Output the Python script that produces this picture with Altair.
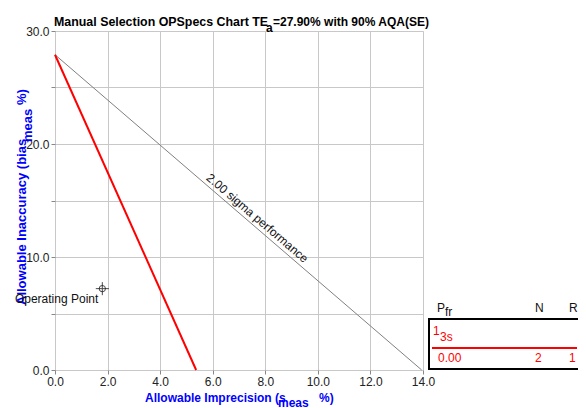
import altair as alt
import pandas as pd

# ---- data ----
tea = 27.90
sigma_x = [0.0, 13.95]
sigma_y = [27.90, 0.0]
rule_x = [0.0, 5.37]
rule_y = [27.90, 0.0]
op_x = [1.8]
op_y = [7.2]
x_ticks = [0, 2, 4, 6, 8, 10, 12, 14]
y_ticks = [0, 5, 10, 15, 20, 25, 30]
legend_rule = "1"
legend_sub = "3s"
legend_pfr = "0.00"
legend_n = "2"
legend_r = "1"

W, H = 368, 339
FONT = "Liberation Sans"

xs = alt.Scale(domain=[0, 14], nice=False, zero=False)
ys = alt.Scale(domain=[0, 30], nice=False, zero=False)

xaxis = alt.Axis(values=x_ticks, format=".1f", title=None, grid=True, gridColor="#c8c8c8",
                 labelFont=FONT, labelFontSize=12, labelColor="#222", tickColor="#888",
                 domain=False, labelPadding=2, tickSize=4, labelFlush=False)
yaxis = alt.Axis(values=y_ticks, title=None, grid=True, gridColor="#c8c8c8",
                 labelExpr="datum.value % 10 == 0 ? format(datum.value, '.1f') : ''",
                 labelFont=FONT, labelFontSize=12, labelColor="#222", tickColor="#888",
                 domain=False, labelPadding=2, tickSize=4, labelFlush=False)

sig_df = pd.DataFrame({"x": sigma_x, "y": sigma_y})
rule_df = pd.DataFrame({"x": rule_x, "y": rule_y})
op_df = pd.DataFrame({"x": op_x, "y": op_y, "label": ["Operating Point"]})

base_sig = alt.Chart(sig_df).mark_line(color="#808080", strokeWidth=1).encode(
    x=alt.X("x:Q", scale=xs, axis=xaxis),
    y=alt.Y("y:Q", scale=ys, axis=yaxis),
)
red = alt.Chart(rule_df).mark_line(color="#ff0000", strokeWidth=2).encode(
    x=alt.X("x:Q", scale=xs), y=alt.Y("y:Q", scale=ys))

sig_label = alt.Chart(pd.DataFrame({"x": [7.5], "y": [tea - 2 * 7.5], "t": ["2.00 sigma performance"]})).mark_text(
    angle=40.6, font=FONT, fontSize=12, color="#111", baseline="bottom", align="center", dy=-1
).encode(x=alt.X("x:Q", scale=xs), y=alt.Y("y:Q", scale=ys), text="t:N")

op_circle = alt.Chart(op_df).mark_point(shape="circle", filled=False, color="black", size=40, strokeWidth=1).encode(
    x=alt.X("x:Q", scale=xs), y=alt.Y("y:Q", scale=ys))
op_cross = alt.Chart(op_df).mark_point(shape="M-1,0L1,0M0,-1L0,1", filled=False, color="black",
                                        size=170, strokeWidth=1).encode(
    x=alt.X("x:Q", scale=xs), y=alt.Y("y:Q", scale=ys))
op_text = alt.Chart(op_df).mark_text(font=FONT, fontSize=12, color="#111", align="right", dx=-4, dy=10).encode(
    x=alt.X("x:Q", scale=xs), y=alt.Y("y:Q", scale=ys), text="label:N")


def txt(s, x, y, size=12, color="#111", bold=False, align="left", angle=0, baseline="alphabetic"):
    return alt.Chart(pd.DataFrame({"t": [s]})).mark_text(
        font=FONT, fontSize=size, color=color, fontWeight="bold" if bold else "normal",
        align=align, angle=angle, baseline=baseline
    ).encode(x=alt.value(x), y=alt.value(y), text="t:N")


# Title pieces (pixel positions relative to plot origin)
title = [
    txt("Manual Selection OPSpecs Chart TE", -1, -5, 12.4, "#000", True),
    txt("a", 211, 1, 12, "#000", True),
    txt("=27.90% with 90% AQA(SE)", 218, -5, 12, "#000", True),
]
BLUE = "#0000ff"
xtitle = [
    txt("Allowable Imprecision (s", 90, H + 32, 12, BLUE, True),
    txt("meas", 223, H + 37, 12, BLUE, True),
    txt("%)", 264, H + 32, 12, BLUE, True),
]
ytitle = [
    txt("Allowable Inaccuracy (bias", -29, 274, 13, BLUE, True, angle=270),
    txt("meas", -23, 111, 13, BLUE, True, angle=270),
    txt("%)", -29, 74, 13, BLUE, True, angle=270),
]

# legend box (right)
LX = W + 6
legend_box = alt.Chart(pd.DataFrame({"a": [0]})).mark_rect(fill="white", stroke="black", strokeWidth=2).encode(
    x=alt.value(LX), x2=alt.value(LX + 150), y=alt.value(288), y2=alt.value(338))
legend_line = alt.Chart(pd.DataFrame({"a": [0]})).mark_rule(color="#ff0000", strokeWidth=2).encode(
    x=alt.value(LX + 3), x2=alt.value(LX + 148), y=alt.value(317))
legend = [
    txt("P", LX + 8, 281, 12),
    txt("fr", LX + 16, 285, 12),
    txt("N", LX + 106, 281, 12),
    txt("R", LX + 140, 281, 12),
    txt(legend_rule, LX + 4, 304, 12, "#ff0000"),
    txt(legend_sub, LX + 11, 310, 12, "#ff0000"),
    txt(legend_pfr, LX + 9, 331, 12, "#ff0000"),
    txt(legend_n, LX + 106, 331, 12, "#ff0000"),
    txt(legend_r, LX + 140, 331, 12, "#ff0000"),
]

chart = alt.layer(
    base_sig, red, sig_label, op_circle, op_cross,
    *title, *xtitle, *ytitle, op_text, legend_box, legend_line, *legend
).properties(
    width=W, height=H,
    autosize=alt.AutoSizeParams(type="none"),
    padding={"left": 47, "top": 23, "right": 155, "bottom": 38},
).configure_view(stroke="black", strokeWidth=2.5).configure(background="white")

chart.save("out.html", embed_options={"renderer": "svg", "actions": False})
